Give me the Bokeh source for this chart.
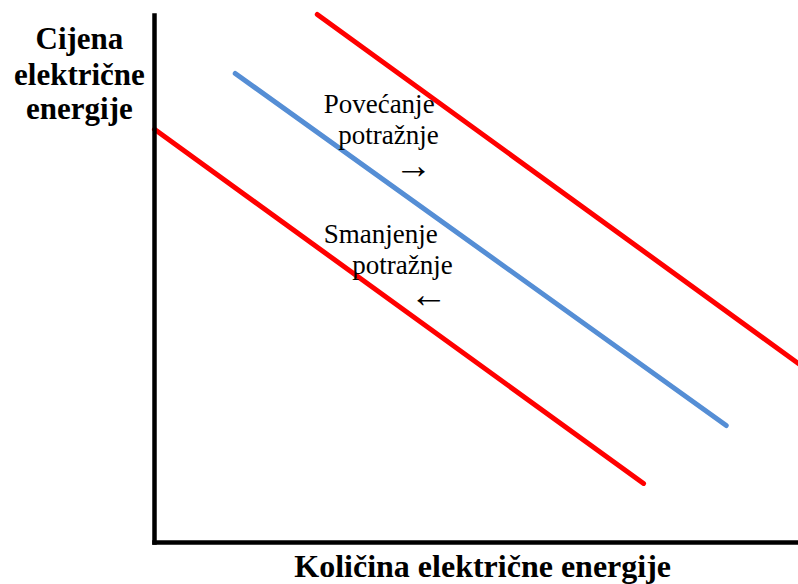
from bokeh.plotting import figure
from bokeh.models import Range1d, FixedTicker, Label, LinearAxis
from bokeh.embed import file_html
from bokeh.resources import INLINE

# ---- data (quantity on x, price on y, arbitrary units) ----
demand_lower_q = [0.0, 76.9]
demand_lower_p = [78.4, 11.2]
demand_base_q = [12.7, 89.9]
demand_base_p = [89.0, 22.2]
demand_upper_q = [25.6, 102.0]
demand_upper_p = [100.2, 33.3]

y_title_lines = ["Cijena", "električne", "energije"]
x_title = "Količina električne energije"
increase_lines = ["Povećanje", "potražnje", "→"]
decrease_lines = ["Smanjenje", "potražnje", "←"]

RED = "#FF0000"
BLUE = "#558ED5"
SERIF = "Times New Roman"

p = figure(width=798, height=584,
           x_range=Range1d(-24.21, 101.26), y_range=Range1d(-7.97, 102.85),
           output_backend="svg", toolbar_location=None,
           x_axis_location=None, y_axis_location=None,
           min_border=0, min_border_left=0, min_border_right=0,
           min_border_top=0, min_border_bottom=0)
p.outline_line_color = None
p.grid.visible = False
p.background_fill_color = "white"
p.border_fill_color = "white"

xax = LinearAxis(fixed_location=0, bounds=(0, 101.26))
yax = LinearAxis(fixed_location=0, bounds=(0, 100.0))
for ax in (xax, yax):
    ax.ticker = FixedTicker(ticks=[])
    ax.axis_line_width = 4.5
    ax.axis_line_color = "black"
    ax.axis_line_cap = "square"
    ax.major_tick_line_color = None
    ax.minor_tick_line_color = None
    ax.major_tick_in = 0
    ax.major_tick_out = 0
    ax.minor_tick_in = 0
    ax.minor_tick_out = 0
    ax.major_label_standoff = 0
    ax.axis_label_standoff = 0
    ax.major_label_text_font_size = "0px"
p.add_layout(xax, "below")
p.add_layout(yax, "left")

p.line(demand_lower_q, demand_lower_p, line_color=RED, line_width=5, line_cap="round")
p.line(demand_base_q, demand_base_p, line_color=BLUE, line_width=5, line_cap="round")
p.line(demand_upper_q, demand_upper_p, line_color=RED, line_width=5, line_cap="round")

# y-axis title (horizontal, three centred lines, left of the axis)
for txt, yy in zip(y_title_lines, [95.6, 88.8, 82.3]):
    p.add_layout(Label(x=-11.8, y=yy, text=txt, text_align="center",
                       text_baseline="alphabetic", text_font=SERIF,
                       text_font_style="bold", text_font_size="31px",
                       text_color="black"))

# x-axis title
p.add_layout(Label(x=51.6, y=-4.37, text=x_title, text_align="center",
                   text_baseline="alphabetic", text_font=SERIF,
                   text_font_style="bold", text_font_size="32px",
                   text_color="black"))

# annotations
inc_pos = [(26.6, 83.3, "alphabetic", "27px"), (28.9, 77.4, "alphabetic", "27px"),
           (37.7, 71.6, "middle", "38px")]
dec_pos = [(26.6, 58.6, "alphabetic", "27px"), (31.1, 52.7, "alphabetic", "27px"),
           (40.1, 47.1, "middle", "38px")]
for lines, pos in ((increase_lines, inc_pos), (decrease_lines, dec_pos)):
    for txt, (xx, yy, bl, fs) in zip(lines, pos):
        p.add_layout(Label(x=xx, y=yy, text=txt, text_align="left",
                           text_baseline=bl, text_font=SERIF,
                           text_font_size=fs, text_color="black"))

open("out.html", "w").write(file_html(p, INLINE))
